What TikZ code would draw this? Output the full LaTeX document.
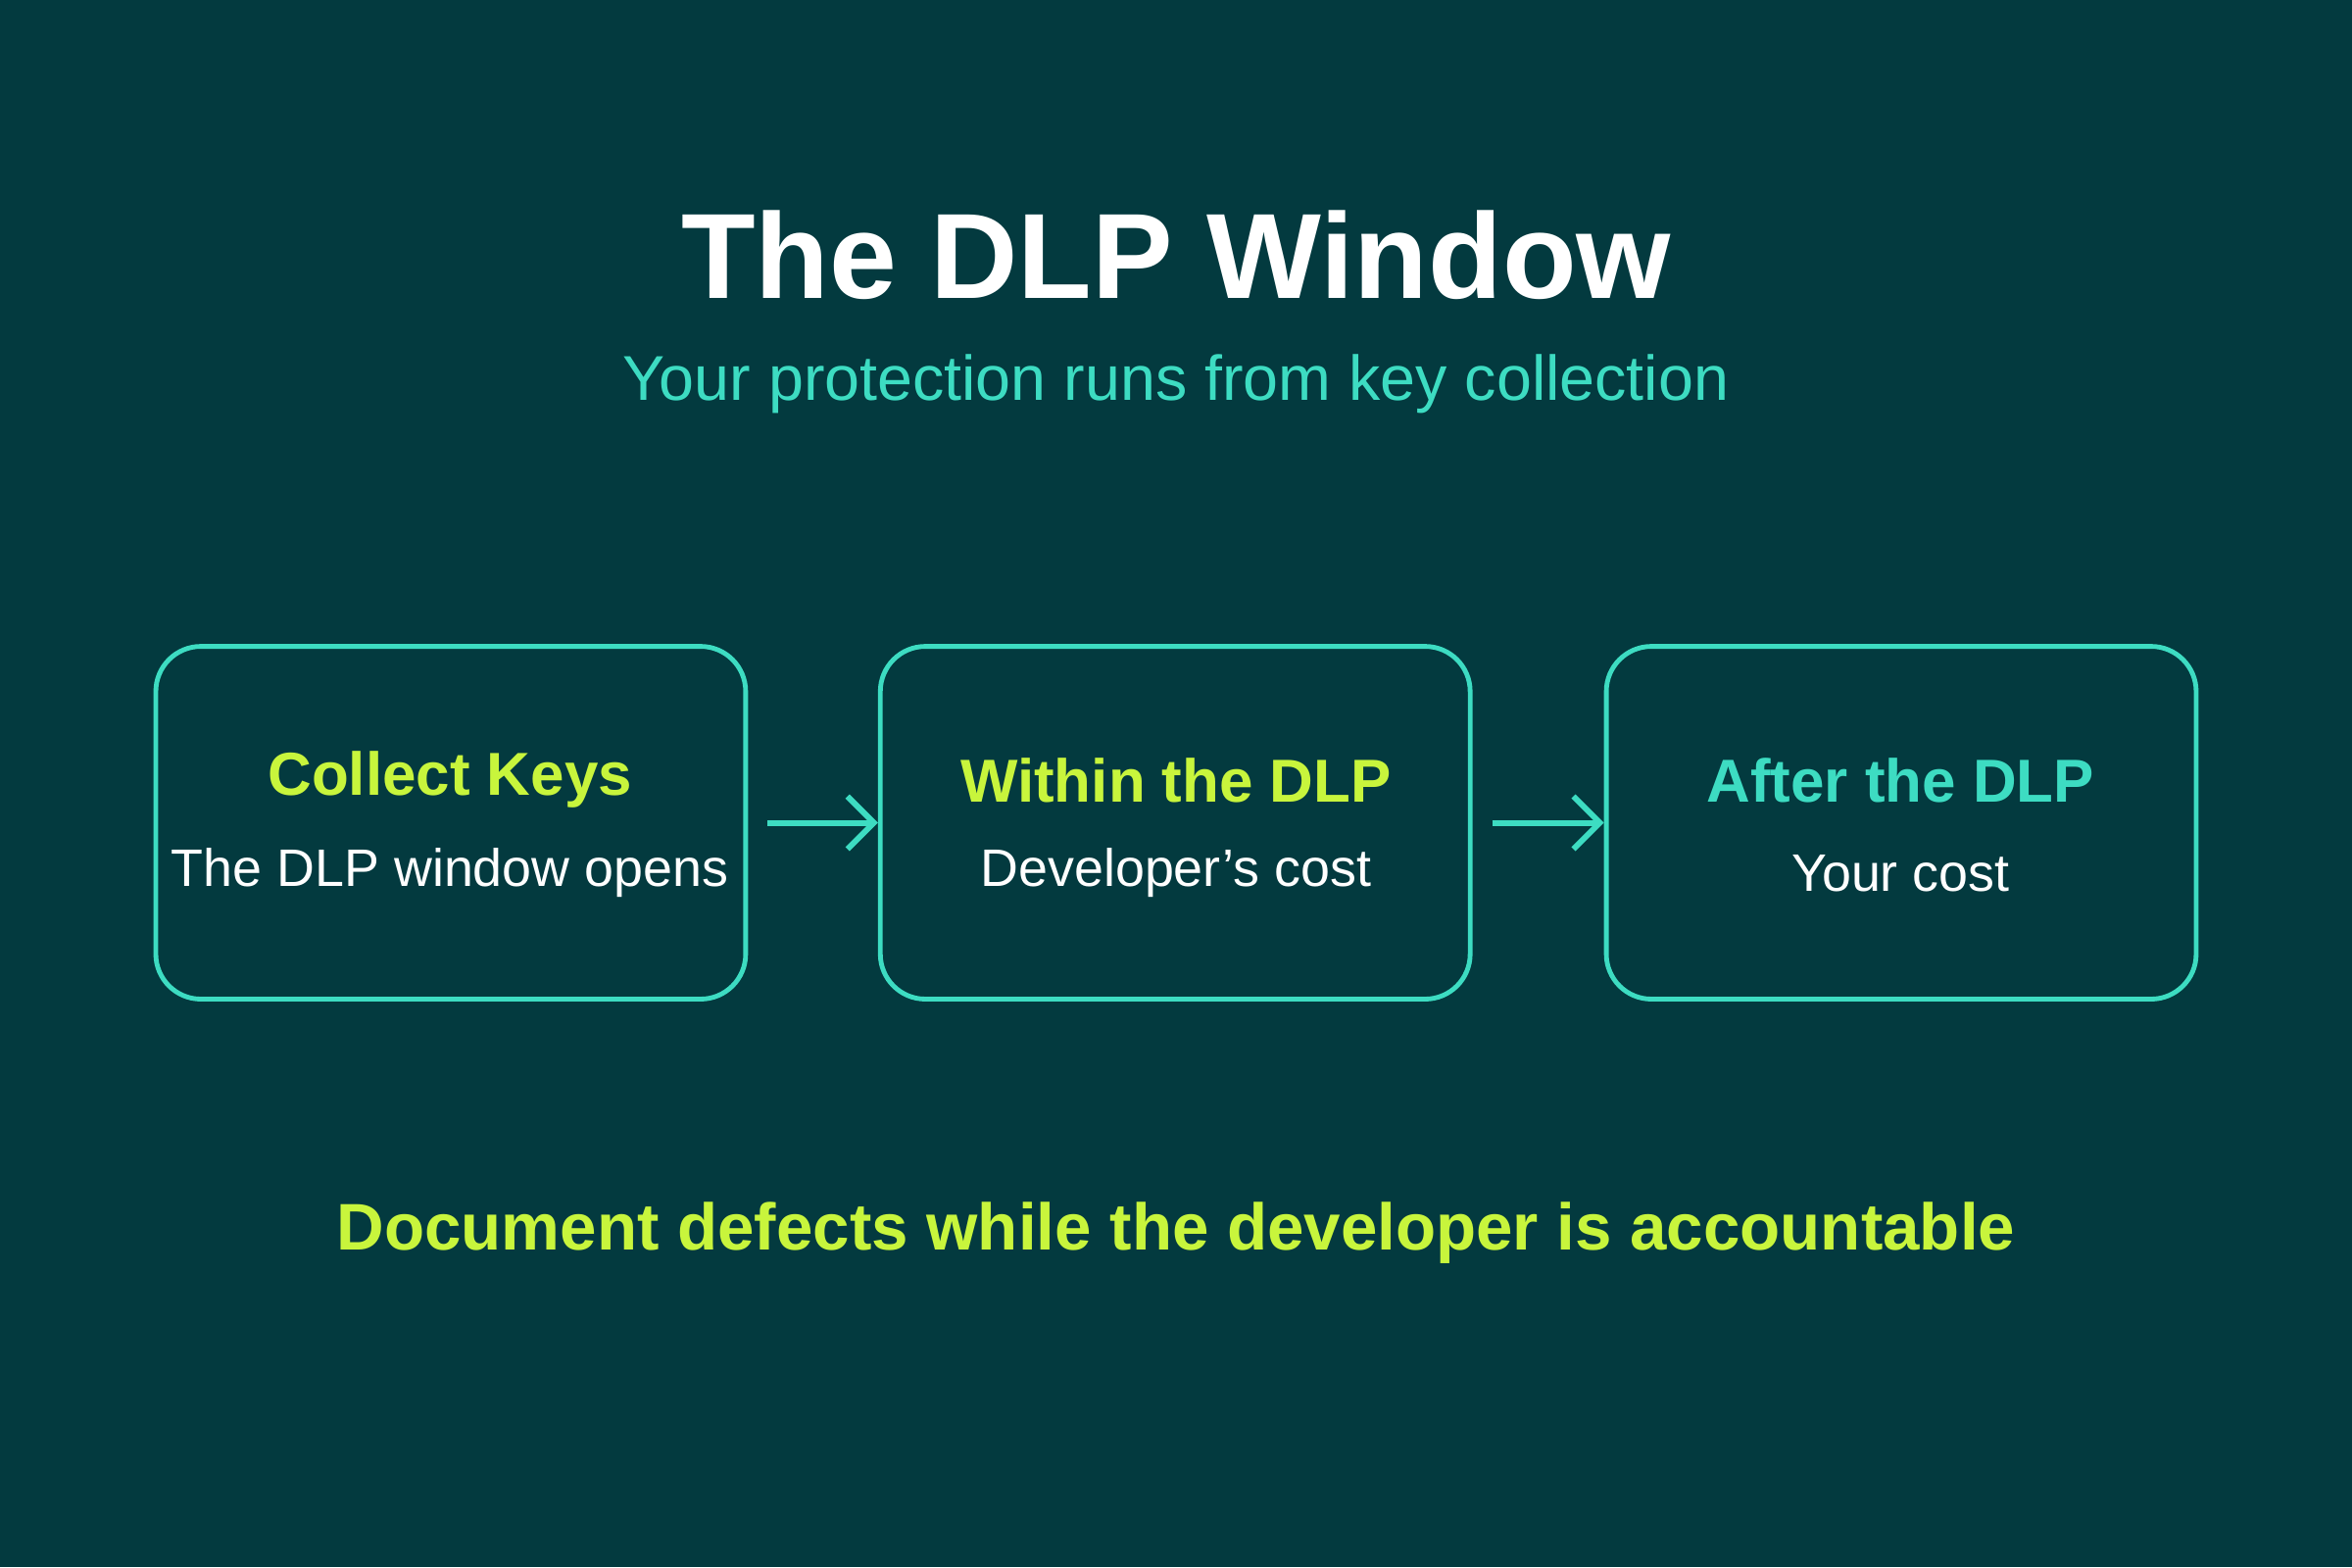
\documentclass[tikz,border=0pt]{standalone}
\usepackage{fontspec}
\setmainfont{Liberation Sans}
\usetikzlibrary{positioning,arrows.meta}
\definecolor{bgcol}{HTML}{033A3F}
\definecolor{tealc}{HTML}{3DDCC2}
\definecolor{limec}{HTML}{C8F53C}
\begin{document}
\begin{tikzpicture}[x=0.01cm,y=-0.01cm,
  stage/.style={draw=tealc,line width=0.9pt,rounded corners=0.3cm,minimum width=3.93cm,minimum height=2.35cm},
  head/.style={font=\bfseries\fontsize{11.5}{13}\selectfont},
  body/.style={text=white,font=\fontsize{10}{12}\selectfont},
  flow/.style={draw=tealc,line width=1.1pt,-{Straight Barb[length=5pt,width=10pt]}}]

 \fill[bgcol] (0,0) rectangle (1568,1045);

 \node (title) at (784,170) {\color{white}\bfseries\fontsize{23}{27}\selectfont The DLP Window};
 \node (sub) at (784,256) {\color{tealc}\fontsize{12}{14}\selectfont Your protection runs from key collection};

% three stages
 \node[stage] (keys) at (300.5,548.5) {};
 \node[stage] (within) at (783.5,548.5) {};
 \node[stage] (after) at (1267.5,548.5) {};

 \node[head,text=limec] at (300,520) {Collect Keys};
 \node[body] at (300,582) {The DLP window opens};
 \node[head,text=limec] at (784,520) {Within the DLP};
 \node[body] at (784,582) {Developer's cost};
 \node[head,text=tealc] at (1267,520) {After the DLP};
 \node[body] at (1267,582) {Your cost};

 \draw[flow] ([xshift=0.13cm]keys.east) -- (within.west);
 \draw[flow] ([xshift=0.13cm]within.east) -- (after.west);

 \node (note) at (784,822) {\color{limec}\bfseries\fontsize{12.5}{15}\selectfont Document defects while the developer is accountable};
\end{tikzpicture}
\end{document}
